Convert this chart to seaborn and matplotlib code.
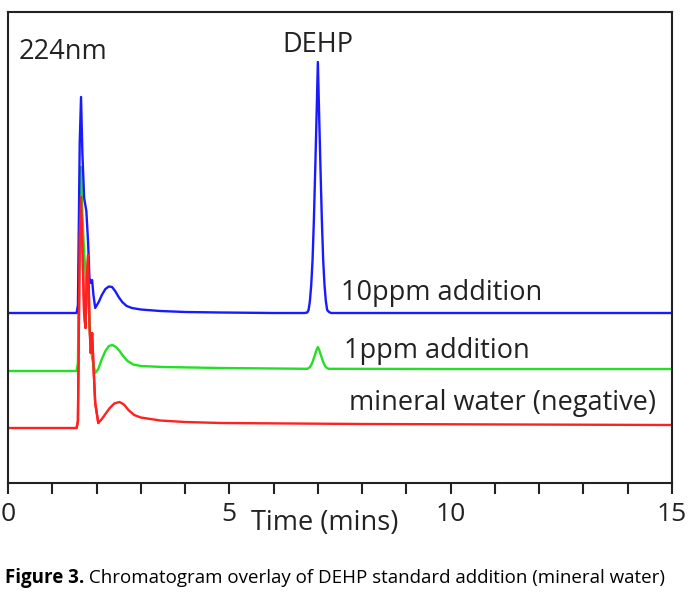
import matplotlib
matplotlib.use("Agg")
import matplotlib.pyplot as plt
import seaborn as sns
import pandas as pd

# ---- data (time in min, detector signal in arbitrary units) ----
blue_time = [0, 1.0, 1.55, 1.58, 1.62, 1.65, 1.68, 1.72, 1.77, 1.81, 1.84, 1.87, 1.90,
             1.93, 1.97, 2.05, 2.12, 2.20, 2.28, 2.35, 2.42, 2.50, 2.58, 2.68, 2.80,
             3.0, 3.44, 4.0, 4.8, 6.0, 6.70, 6.76, 6.79, 6.82, 6.85, 6.88, 6.91, 6.94,
             6.97, 7.00, 7.03, 7.06, 7.09, 7.12, 7.15, 7.18, 7.21, 7.25, 7.30, 10.0, 15]
blue_sig = [170, 170, 170, 178, 340, 386, 330, 285, 272, 240, 205, 200, 203,
            188, 175, 181, 188, 194, 196.5, 196, 192, 186, 181, 177, 175,
            173.5, 172, 171, 170.5, 170, 170, 170.5, 173, 182, 198, 223, 263, 313,
            366, 421, 366, 313, 263, 223, 198, 182, 173, 171, 170, 170, 170]

green_time = [0, 1.0, 1.55, 1.58, 1.62, 1.65, 1.68, 1.72, 1.77, 1.81, 1.85, 1.90, 1.97,
              2.04, 2.12, 2.20, 2.28, 2.36, 2.44, 2.52, 2.60, 2.70, 2.83, 3.0, 3.5,
              4.8, 6.76, 6.79, 6.82, 6.85, 6.88, 6.91, 6.94, 6.97, 7.00, 7.03, 7.06,
              7.09, 7.12, 7.15, 7.18, 7.21, 7.25, 10.0, 15]
green_sig = [112, 112, 112, 120, 285, 316, 270, 230, 200, 190, 150, 125, 110,
             114, 124, 132, 137, 138, 136, 132, 127, 122, 118.5, 117, 116,
             115, 114.2, 114.8, 116, 118, 121, 125, 129, 133, 136, 133, 129,
             125, 121, 118, 116, 114.8, 114.2, 114, 114]

red_time = [0, 1.0, 1.55, 1.58, 1.62, 1.65, 1.68, 1.72, 1.75, 1.78, 1.81, 1.84, 1.87,
            1.90, 1.93, 1.97, 2.04, 2.12, 2.20, 2.30, 2.40, 2.52, 2.62, 2.72, 2.85,
            3.0, 3.44, 4.0, 4.8, 8.0, 15]
red_sig = [55, 55, 55, 62, 245, 286, 240, 170, 155, 205, 228, 160, 130,
           150, 118, 80, 60, 64, 69, 75, 79.5, 81, 78.5, 73, 68,
           65.5, 62.5, 61, 60, 59, 58]

trace_labels = ["10ppm addition", "1ppm addition", "mineral water (negative)"]
wavelength_label = "224nm"
peak_label = "DEHP"
x_ticks_major = [0, 5, 10, 15]
x_label = "Time (mins)"
caption_bold = "Figure 3."
caption_text = " Chromatogram overlay of DEHP standard addition (mineral water)"

sns.set_theme(style="white")
plt.rcParams["font.family"] = ["Open Sans", "DejaVu Sans"]

fig = plt.figure(figsize=(6.9, 6.01), dpi=100)
ax = fig.add_axes([8 / 690, 1 - 483 / 601, 664 / 690, 471 / 601])

df_b = pd.DataFrame({"t": blue_time, "s": blue_sig})
df_g = pd.DataFrame({"t": green_time, "s": green_sig})
df_r = pd.DataFrame({"t": red_time, "s": red_sig})

lw = 1.7
sns.lineplot(data=df_r, x="t", y="s", ax=ax, color="#ff2020", lw=lw,
             estimator=None, sort=False)
sns.lineplot(data=df_g, x="t", y="s", ax=ax, color="#22e022", lw=lw,
             estimator=None, sort=False)
sns.lineplot(data=df_b, x="t", y="s", ax=ax, color="#1a1aff", lw=lw,
             estimator=None, sort=False)
# red drawn on top in the early spike region
sns.lineplot(data=df_r[(df_r.t > 1.5) & (df_r.t < 2.1)], x="t", y="s", ax=ax,
             color="#ff2020", lw=lw, estimator=None, sort=False)

ax.set_xlim(0, 15)
ax.set_ylim(0, 471)
ax.set_yticks([])
ax.set_xticks(range(0, 16))
ax.set_xticklabels([str(v) if v in x_ticks_major else "" for v in range(0, 16)],
                   fontsize=19, color="#222222")
ax.tick_params(axis="x", direction="out", length=8, width=1.5, color="#222222",
               bottom=True, pad=6)
for sp in ax.spines.values():
    sp.set_linewidth(1.5)
    sp.set_color("#222222")
ax.set_xlabel("")
ax.set_ylabel("")
fig.text(325 / 690, 1 - 523 / 601, x_label, fontsize=19.5, ha="center", va="center",
         color="#222222")

txt_kw = dict(fontsize=19.5, color="#222222", va="center")
ax.text(0.23, 431, wavelength_label, ha="left", **txt_kw)
ax.text(7.0, 438, peak_label, ha="center", **txt_kw)
ax.text(7.52, 190, trace_labels[0], ha="left", **txt_kw)
ax.text(7.6, 132, trace_labels[1], ha="left", **txt_kw)
ax.text(7.7, 80, trace_labels[2], ha="left", **txt_kw)

t1 = fig.text(5 / 690, 1 - 578 / 601, caption_bold, fontsize=13.5, fontweight="bold",
              va="center", ha="left", color="black")
ax.annotate(caption_text, xy=(1, 0.5), xycoords=t1, va="center", ha="left",
            fontsize=13.5, color="black", annotation_clip=False)

fig.savefig("out.png", dpi=100)
